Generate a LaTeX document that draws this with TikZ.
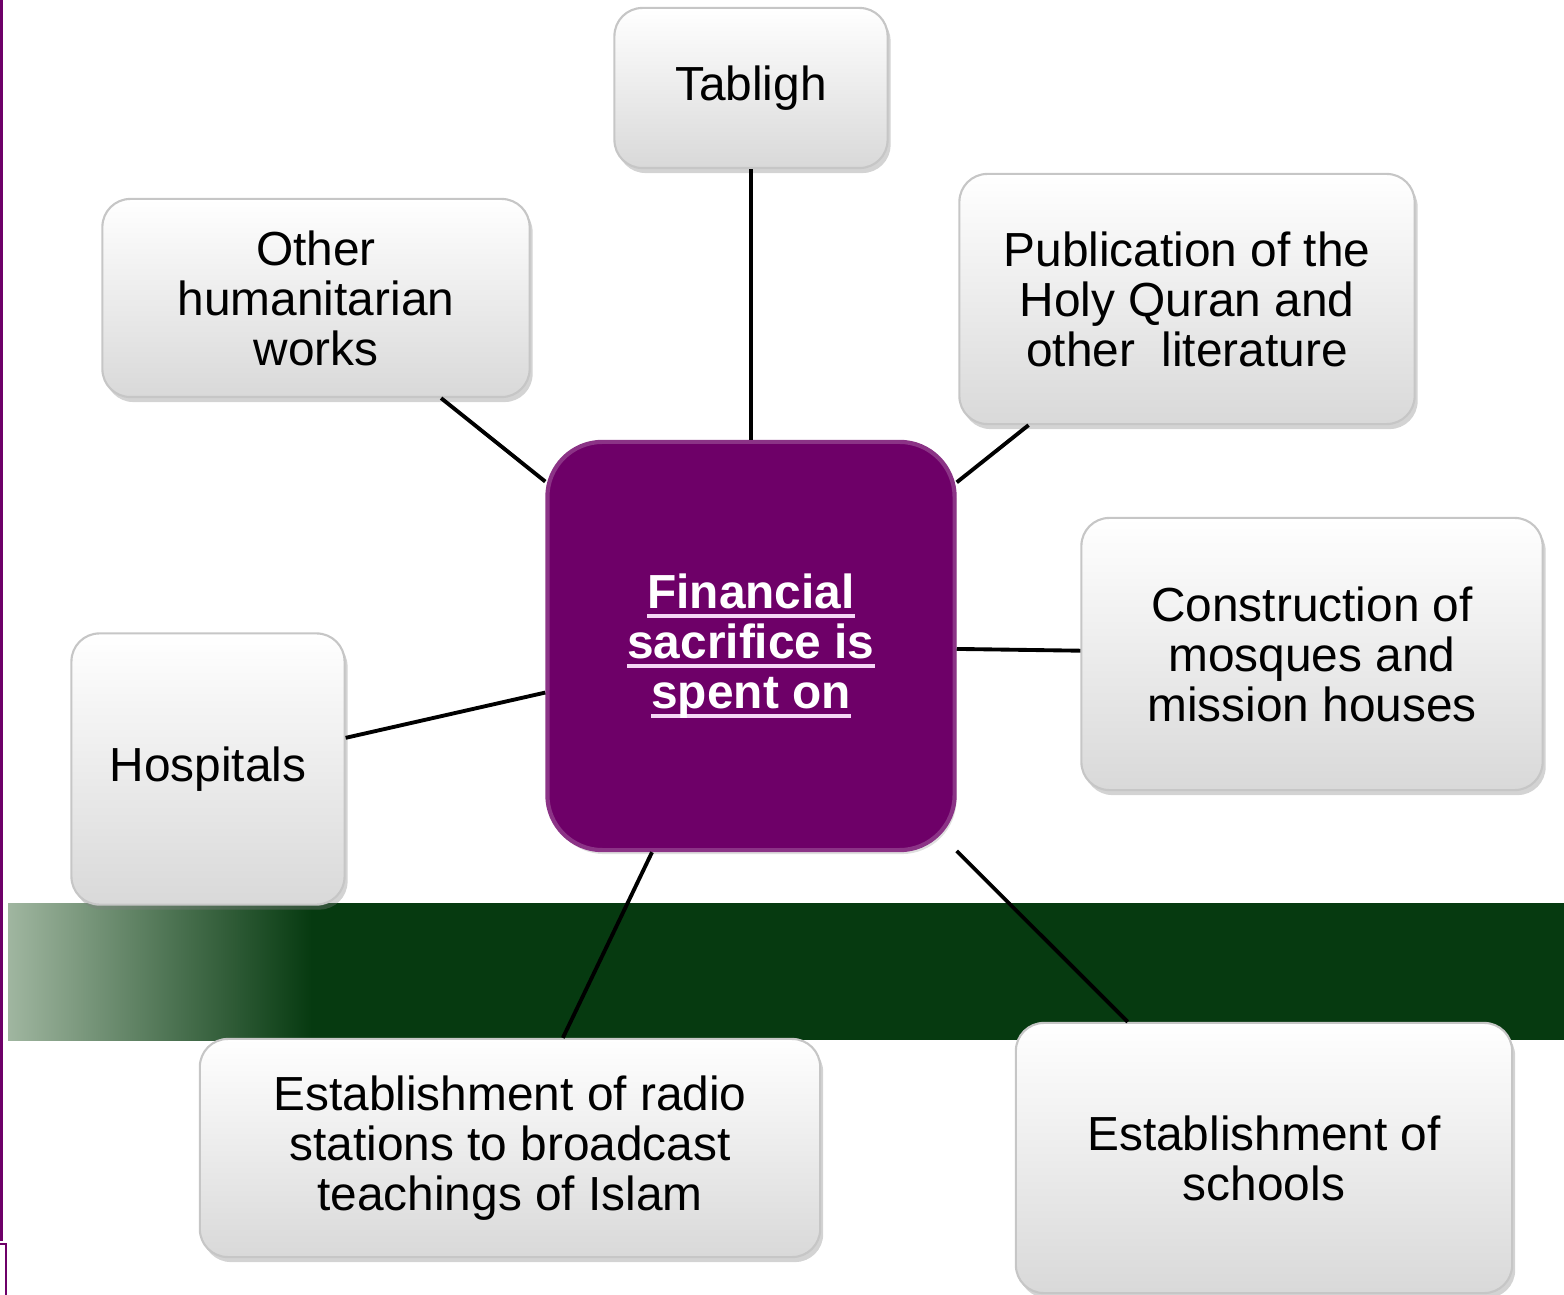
\documentclass[tikz,border=0pt]{standalone}
\usepackage{fontspec}
\setmainfont{Liberation Sans}
\usetikzlibrary{shadows}
\definecolor{plum}{RGB}{110,0,104}
\definecolor{band}{RGB}{6,58,16}
\definecolor{bandlt}{RGB}{160,182,160}
\definecolor{ulpink}{RGB}{246,214,246}
\newcommand{\ulin}[1]{\setbox0\hbox{#1}\rlap{\color{ulpink}\rule[-2.8pt]{\wd0}{1.1pt}}\box0}

\begin{document}
\begin{tikzpicture}[x=0.01cm,y=-0.01cm,
		box/.style={draw=gray!45, line width=0.6pt, rounded corners=0.28cm,
			top color=white, bottom color=gray!30, align=center, inner sep=0pt,
			font=\fontsize{13.6}{14.2}\selectfont,
			drop shadow={opacity=0.35, shadow xshift=0.03cm, shadow yshift=-0.05cm}},
		hub/.style={draw=plum!80!white, line width=1.2pt, fill=plum, rounded corners=0.55cm,
			align=center, inner sep=0pt, text=white,
			font=\fontsize{13.6}{14.2}\selectfont\bfseries,
			drop shadow={opacity=0.25, shadow xshift=0.02cm, shadow yshift=-0.04cm}},
		link/.style={line width=1.1pt}]
				\useasboundingbox (0,0) rectangle (1564,1295);
				% page edge and band
				\fill[plum] (0,0) rectangle (3,1241);
				\draw[plum, line width=0.6pt] (0,1244) -- (6,1244) -- (6,1295);
				\shade[left color=bandlt, right color=band] (8,903) rectangle (312,1040);
				\fill[band] (311,903) rectangle (1564,1040);

				\node[hub, minimum width=4.07cm, minimum height=4.08cm] (fin) at (751,646)
					{\ulin{Financial}\\\ulin{sacrifice is}\\\ulin{spent on}};
				\node[box, minimum width=2.73cm, minimum height=1.6cm] (tab) at (751,88) {Tabligh};
				\node[box, minimum width=4.27cm, minimum height=1.98cm] (oth) at (316,298)
					{Other\\humanitarian\\works};
				\node[box, minimum width=4.55cm, minimum height=2.5cm] (pub) at (1187,299)
					{Publication of the\\Holy Quran and\\other\ \ literature};
				\node[box, minimum width=4.61cm, minimum height=2.72cm] (con) at (1312,654)
					{Construction of\\mosques and\\mission houses};
				\node[box, minimum width=2.73cm, minimum height=2.71cm] (hos) at (208,769) {Hospitals};
				\node[box, minimum width=6.2cm, minimum height=2.18cm] (rad) at (510,1148)
					{Establishment of radio\\stations to broadcast\\teachings of Islam};
				\node[box, minimum width=4.96cm, minimum height=2.7cm] (sch) at (1264,1158)
					{Establishment of\\schools};

				\draw[link] (fin) -- (tab);
				\draw[link] (fin) -- (oth);
				\draw[link] (fin) -- (pub);
				\draw[link] (fin) -- (con);
				\draw[link] (fin) -- (hos);
				\draw[link] (fin) -- (rad);
				\draw[link] (fin) -- (sch);
\end{tikzpicture}
\end{document}
